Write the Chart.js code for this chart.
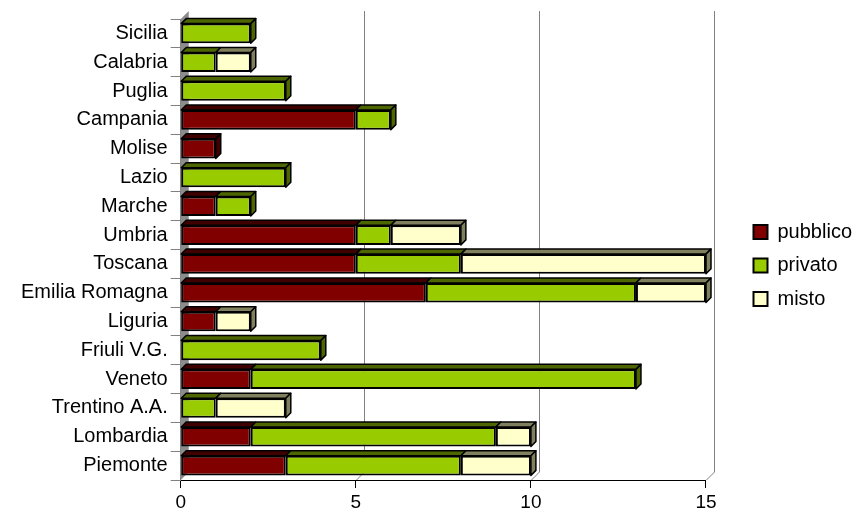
<!DOCTYPE html>
<html>
<head>
<meta charset="utf-8">
<script src="https://cdn.jsdelivr.net/npm/chart.js@4"></script>
<style>
  html, body { margin: 0; padding: 0; background: #fff; }
  #wrap { width: 856px; height: 512px; }
</style>
</head>
<body>
<div id="wrap"><canvas id="regionChart"></canvas></div>
<script>
'use strict';

let regions = ['Piemonte', 'Lombardia', 'Trentino A.A.', 'Veneto', 'Friuli V.G.', 'Liguria',
  'Emilia Romagna', 'Toscana', 'Umbria', 'Marche', 'Lazio', 'Molise', 'Campania', 'Puglia',
  'Calabria', 'Sicilia'];
let pubblico = [3, 2, 0, 2, 0, 1, 7, 5, 5, 1, 0, 1, 5, 0, 0, 0];
let privato = [5, 7, 1, 11, 4, 0, 6, 3, 1, 1, 3, 0, 1, 3, 1, 2];
let misto = [2, 1, 2, 0, 0, 1, 2, 7, 2, 0, 0, 0, 0, 0, 1, 0];
let xTicks = [0, 5, 10, 15];

let seriesColors = ['#800000', '#99CC00', '#FFFFCC'];
let sideColors = ['#400000', '#4d6600', '#80805f'];

// depth of the bars and of the back wall
let barDepth = 5;
let wallDepth = 8;
let gap = 25;

// empty segments would still draw a border, so drop them
function noZero(arr) {
  return arr.map(v => v === 0 ? null : v);
}

// push the legend away from the plot and slide its items right
const legendGap = {
  id: 'legendGap',
  beforeInit(chart) {
    const fit = chart.legend.fit;
    chart.legend.fit = function () {
      fit.call(this);
      this.width += gap;
    };
  },
  afterLayout(chart) {
    chart.legend.left += gap + 9;
  }
};

// grey side wall and back gridlines, like the old 3d excel chart
const backWall = {
  id: 'backWall',
  beforeDatasetsDraw(chart) {
    const ctx = chart.ctx;
    const area = chart.chartArea;
    const x = chart.scales.x;
    ctx.save();
    ctx.fillStyle = '#8c8c8c';
    ctx.beginPath();
    ctx.moveTo(area.left, area.top);
    ctx.lineTo(area.left + wallDepth, area.top - wallDepth);
    ctx.lineTo(area.left + wallDepth, area.bottom - wallDepth);
    ctx.lineTo(area.left, area.bottom);
    ctx.closePath();
    ctx.fill();

    ctx.strokeStyle = '#808080';
    ctx.lineWidth = 1;
    for (let i = 1; i < xTicks.length; i++) {
      let px = Math.round(x.getPixelForValue(xTicks[i])) + 0.5;
      ctx.beginPath();
      ctx.moveTo(px + wallDepth, area.top - wallDepth);
      ctx.lineTo(px + wallDepth, area.bottom - wallDepth);
      ctx.lineTo(px, area.bottom);
      ctx.stroke();
    }
    ctx.restore();
  },
  afterDatasetsDraw(chart) {
    const ctx = chart.ctx;
    ctx.save();
    ctx.strokeStyle = '#000';
    ctx.lineWidth = 1.5;
    ctx.lineJoin = 'round';
    let lastSeg = [];
    chart.data.datasets.forEach((ds, d) => {
      const meta = chart.getDatasetMeta(d);
      meta.data.forEach((bar, i) => {
        if (ds.data[i] == null) return;
        const p = bar.getProps(['x', 'y', 'base', 'height'], true);
        const top = p.y - p.height / 2;
        ctx.fillStyle = sideColors[d];
        ctx.beginPath();
        ctx.moveTo(p.base, top);
        ctx.lineTo(p.x, top);
        ctx.lineTo(p.x + barDepth, top - barDepth);
        ctx.lineTo(p.base + barDepth, top - barDepth);
        ctx.closePath();
        ctx.fill();
        ctx.stroke();
        lastSeg[i] = {p: p, d: d};
      });
    });
    lastSeg.forEach(s => {
      if (!s) return;
      const top = s.p.y - s.p.height / 2;
      const bottom = s.p.y + s.p.height / 2;
      ctx.fillStyle = sideColors[s.d];
      ctx.beginPath();
      ctx.moveTo(s.p.x, top);
      ctx.lineTo(s.p.x + barDepth, top - barDepth);
      ctx.lineTo(s.p.x + barDepth, bottom - barDepth);
      ctx.lineTo(s.p.x, bottom);
      ctx.closePath();
      ctx.fill();
      ctx.stroke();
    });
    ctx.restore();
  }
};

Chart.defaults.font.family = "'Liberation Sans', Arial, sans-serif";
Chart.defaults.font.size = 20;
Chart.defaults.color = '#000';

const data = {
  labels: regions,
  datasets: [{
    label: 'pubblico',
    data: noZero(pubblico),
    backgroundColor: seriesColors[0],
    borderColor: '#000',
    borderWidth: 2,
    borderSkipped: false
  },
  {
    label: 'privato',
    data: noZero(privato),
    backgroundColor: seriesColors[1],
    borderColor: '#000',
    borderWidth: 2,
    borderSkipped: false
  },
  {
    label: 'misto',
    data: noZero(misto),
    backgroundColor: seriesColors[2],
    borderColor: '#000',
    borderWidth: 2,
    borderSkipped: false
  }]
};

const config = {
  type: 'bar',
  data: data,
  plugins: [legendGap, backWall],
  options: {
    indexAxis: 'y',
    responsive: true,
    maintainAspectRatio: false,
    animation: false,
    barPercentage: 0.68,
    categoryPercentage: 1,
    layout: {
      padding: {top: 19, right: 3, bottom: 0, left: 18}
    },
    plugins: {
      legend: {
        position: 'right',
        labels: {
          boxWidth: 14,
          boxHeight: 14,
          padding: 13.5,
          font: {size: 20}
        }
      },
      tooltip: {enabled: false}
    },
    scales: {
      x: {
        stacked: true,
        min: 0,
        max: 15,
        afterBuildTicks(scale) {
          scale.ticks = xTicks.map(v => ({value: v}));
        },
        afterFit(scale) {
          scale.height = 32;
        },
        grid: {
          drawOnChartArea: false,
          color: '#000',
          tickLength: 8
        },
        border: {color: '#000', width: 1},
        ticks: {padding: 3, font: {size: 19}}
      },
      y: {
        stacked: true,
        reverse: true,
        grid: {
          drawOnChartArea: false,
          color: '#808080',
          tickLength: 10
        },
        border: {color: '#808080', width: 1},
        ticks: {padding: 3, font: {size: 20}}
      }
    }
  }
};

const regionChart = new Chart(document.getElementById('regionChart'), config);
</script>
</body>
</html>
